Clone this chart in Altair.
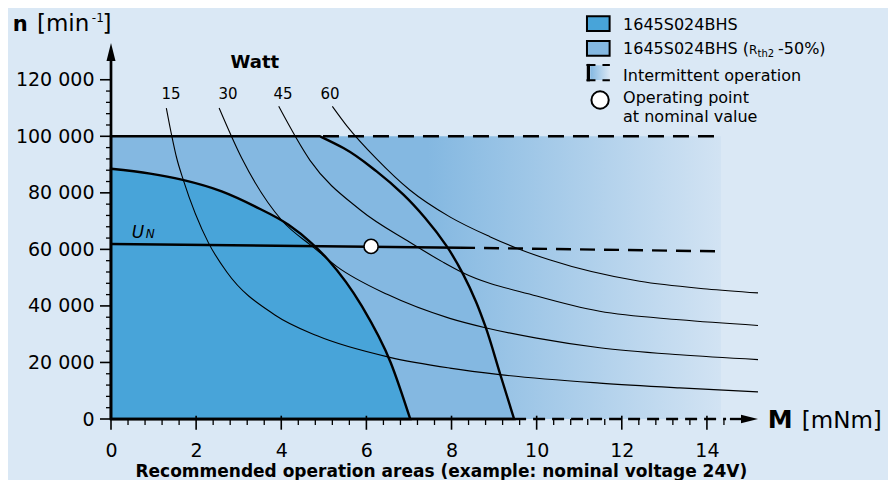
import altair as alt
import pandas as pd

FONT = "DejaVu Sans"
BG = "#dae8f5"
DARK = "#48a4d9"
MED = "#84b8e1"
FADE = "#d2e3f3"

# ---------------- data ----------------
# torque M [mNm] / speed n [min^-1]
P15_M = [1.30, 1.43, 1.54, 1.70, 2.29, 2.72, 3.85, 4.83, 6.55, 7.96, 9.13, 11.48, 13.36, 15.2]
P15_N = [110000, 100000, 92500, 84500, 62300, 52000, 36800, 29500, 21800, 18000, 15700, 12700, 11000, 9600]
P30_M = [2.54, 3.07, 4.01, 4.75, 5.30, 6.50, 7.96, 8.82, 10.0, 11.48, 13.36, 15.2]
P30_N = [110000, 92300, 70300, 60800, 54000, 44000, 35600, 32200, 28600, 25200, 22700, 21000]
P45_M = [3.94, 4.675, 5.85, 7.02, 7.81, 8.23, 10.0, 11.48, 13.36, 15.2]
P45_N = [110600, 91500, 74000, 62500, 55400, 52000, 43500, 38100, 35100, 33100]
P60_M = [5.20, 5.54, 6.24, 7.02, 7.96, 8.90, 9.52, 10.3, 12.42, 14.0, 15.2]
P60_N = [110600, 103700, 92000, 81000, 71500, 64500, 60500, 56300, 48700, 46000, 44600]
POWER_LABELS = ["15", "30", "45", "60"]

# continuous operation area 1645S024BHS
DARK_M = [0, 0.92, 1.66, 2.60, 3.38, 4.17, 4.71, 5.10, 5.89, 6.57, 7.03]
DARK_N = [88500, 86800, 84650, 80500, 75200, 68700, 62250, 56350, 40000, 20000, 0]
# area with Rth2 -50 % (curved part, from the corner of the speed limit)
MED_M = [4.91, 5.46, 6.24, 6.87, 7.38, 7.89, 8.28, 8.575, 8.79, 9.14, 9.47]
MED_N = [100000, 95860, 87580, 79340, 71100, 61050, 51000, 41500, 33000, 16000, 0]
LIMIT_N = 100000
INTERMITTENT_M = [4.98, 14.33]      # dashed speed limit / faded area end
GRADIENT_M = [0, 14.33]

# nominal voltage line
UN_M = [0, 8.2]
UN_N = [61900, 60600]
UN_DASH_M = [8.2, 14.33]
UN_DASH_N = [60600, 59300]
OP_M = [6.11]
OP_N = [61050]

# axis lines
X_AXIS_SOLID = [0, 9.47]
X_AXIS_DASH = [9.47, 14.45]
X_AXIS_TAIL = [14.54, 15.0]
X_MAX = 15.2
Y_AXIS_SOLID = [0, 130000]
Y_MAX = 133000

X_TICKS = [0, 2, 4, 6, 8, 10, 12, 14]
X_MINOR = [0.4, 0.8, 1.2, 1.6, 2.4, 2.8, 3.2, 3.6, 4.4, 4.8, 5.2, 5.6, 6.4, 6.8, 7.2, 7.6,
           8.4, 8.8, 9.2, 9.6, 10.4, 10.8, 11.2, 11.6, 12.4, 12.8, 13.2, 13.6, 14.4]
Y_TICKS = [0, 20000, 40000, 60000, 80000, 100000, 120000]
Y_MINOR = [4000, 8000, 12000, 16000, 24000, 28000, 32000, 36000, 44000, 48000, 52000, 56000,
           64000, 68000, 72000, 76000, 84000, 88000, 92000, 96000, 104000, 108000, 112000, 116000]

# ---------------- helpers ----------------
xs = alt.Scale(domain=[0, X_MAX], nice=False)
ys = alt.Scale(domain=[0, Y_MAX], nice=False)

x_axis = alt.Axis(values=X_TICKS, title=None, grid=False, domain=False, ticks=False, tickSize=0,
                  labelFont=FONT, labelFontSize=19, labelColor="black", labelPadding=37,
                  labelBaseline="alphabetic", labelFlush=False, labelOverlap=False)
y_axis = alt.Axis(values=Y_TICKS, title=None, grid=False, domain=False, ticks=False, tickSize=0,
                  labelFont=FONT, labelFontSize=19, labelColor="black", labelPadding=17,
                  labelBaseline="middle", labelOverlap=False,
                  labelExpr="datum.value == 0 ? '0' : format(datum.value / 1000, 'd') + ' 000'")


def X(f="M"):
    return alt.X(f"{f}:Q", scale=xs, axis=x_axis)


def Y(f="n"):
    return alt.Y(f"{f}:Q", scale=ys, axis=y_axis)


def grad(c0, c1, mid):
    return {"gradient": "linear", "x1": 0, "x2": 1, "y1": 0, "y2": 0,
            "stops": [{"offset": 0, "color": c0}, {"offset": mid, "color": c0},
                      {"offset": 1, "color": c1}]}


# intermittent (faded) area
g_df = pd.DataFrame({"M": [GRADIENT_M[0]], "M2": [GRADIENT_M[1]], "n": [0], "n2": [LIMIT_N]})
gradient = alt.Chart(g_df).mark_rect(fill=grad(MED, FADE, 0.52)).encode(
    x=X(), x2="M2:Q", y=Y(), y2="n2:Q")

med = alt.Chart(pd.DataFrame({"M": MED_M, "n": MED_N})).mark_area(
    orient="horizontal", interpolate="monotone", fill=MED, stroke="black", strokeWidth=2.4
).encode(x=X(), y=Y())

dark = alt.Chart(pd.DataFrame({"M": DARK_M, "n": DARK_N})).mark_area(
    interpolate="monotone", fill=DARK, stroke="black", strokeWidth=2.4
).encode(x=X(), y=Y())

rows = []
for lab, ms, ns in zip(POWER_LABELS, [P15_M, P30_M, P45_M, P60_M], [P15_N, P30_N, P45_N, P60_N]):
    for m, n in zip(ms, ns):
        rows.append({"P": lab, "M": m, "n": n})
power = alt.Chart(pd.DataFrame(rows)).mark_line(
    interpolate="monotone", color="black", strokeWidth=1.1
).encode(x=X(), y=Y(), detail="P:N")

top_dash = alt.Chart(pd.DataFrame({"M": [INTERMITTENT_M[0]], "M2": [INTERMITTENT_M[1]], "n": [LIMIT_N]})).mark_rule(
    color="black", strokeWidth=2.4, strokeDash=[16, 9]).encode(x=X(), x2="M2:Q", y=Y())

un = alt.Chart(pd.DataFrame({"M": UN_M, "n": UN_N})).mark_line(color="black", strokeWidth=2.4).encode(x=X(), y=Y())
un_dash = alt.Chart(pd.DataFrame({"M": UN_DASH_M, "n": UN_DASH_N})).mark_line(
    color="black", strokeWidth=2.4, strokeDash=[15, 9]).encode(x=X(), y=Y())

# axis lines and arrows
xl = alt.Chart(pd.DataFrame({"M": [X_AXIS_SOLID[0]], "M2": [X_AXIS_SOLID[1]], "n": [0]})).mark_rule(
    color="black", strokeWidth=2.7).encode(x=X(), x2="M2:Q", y=Y())
xd = alt.Chart(pd.DataFrame({"M": [X_AXIS_DASH[0]], "M2": [X_AXIS_DASH[1]], "n": [0]})).mark_rule(
    color="black", strokeWidth=2.4, strokeDash=[12, 7]).encode(x=X(), x2="M2:Q", y=Y())
xt = alt.Chart(pd.DataFrame({"M": [X_AXIS_TAIL[0]], "M2": [X_AXIS_TAIL[1]], "n": [0]})).mark_rule(
    color="black", strokeWidth=2.4).encode(x=X(), x2="M2:Q", y=Y())
xarrow = alt.Chart(pd.DataFrame({"M": [X_MAX], "n": [0]})).mark_point(
    shape="M0,0L-2,-0.5L-2,0.5Z", size=289, filled=True, color="black", opacity=1).encode(x=X(), y=Y())
yl = alt.Chart(pd.DataFrame({"M": [0], "n": [Y_AXIS_SOLID[0]], "n2": [Y_AXIS_SOLID[1]]})).mark_rule(
    color="black", strokeWidth=2.7).encode(x=X(), y=Y(), y2="n2:Q")
yarrow = alt.Chart(pd.DataFrame({"M": [0], "n": [Y_MAX]})).mark_point(
    shape="M0,0L0.5,2L-0.5,2Z", size=324, filled=True, color="black", opacity=1).encode(x=X(), y=Y())

xmaj = alt.Chart(pd.DataFrame({"M": X_TICKS, "n": [0] * len(X_TICKS)})).mark_tick(
    orient="vertical", size=14, thickness=1.6, color="black", yOffset=3.7, opacity=1).encode(x=X(), y=Y())
xmin = alt.Chart(pd.DataFrame({"M": X_MINOR, "n": [0] * len(X_MINOR)})).mark_tick(
    orient="vertical", size=6, thickness=1.3, color="black", yOffset=3, opacity=1).encode(x=X(), y=Y())
ymaj = alt.Chart(pd.DataFrame({"M": [0] * len(Y_TICKS), "n": Y_TICKS})).mark_tick(
    orient="horizontal", size=12, thickness=1.6, color="black", xOffset=-5, opacity=1).encode(x=X(), y=Y())
ymin = alt.Chart(pd.DataFrame({"M": [0] * len(Y_MINOR), "n": Y_MINOR})).mark_tick(
    orient="horizontal", size=5, thickness=1.3, color="black", xOffset=-2.5, opacity=1).encode(x=X(), y=Y())

op = alt.Chart(pd.DataFrame({"M": OP_M, "n": OP_N})).mark_point(
    shape="circle", size=201, filled=True, fill="white", stroke="black", strokeWidth=1.6, opacity=1
).encode(x=X(), y=Y())

# ---------------- legend ----------------
LEG_ICON_M = 11.448
LEG_ROWS_N = [139830, 131090]
leg_rect = alt.Chart(pd.DataFrame({"M": [LEG_ICON_M, LEG_ICON_M], "n": LEG_ROWS_N, "c": ["a", "b"]})).mark_point(
    shape="M-1.54,-1H1.54V1H-1.54Z", size=216, filled=True, stroke="black", strokeWidth=2, opacity=1
).encode(x=X(), y=Y(), fill=alt.Fill("c:N", scale=alt.Scale(domain=["a", "b"], range=[DARK, MED]), legend=None))

leg_grad = alt.Chart(pd.DataFrame({"M": [11.26], "M2": [11.72], "n": [119900], "n2": [125100]})).mark_rect(
    fill=grad(MED, BG, 0.0)).encode(x=X(), x2="M2:Q", y=Y(), y2="n2:Q")
leg_bar = alt.Chart(pd.DataFrame({"M": [11.215], "n": [119450], "n2": [125600]})).mark_rule(
    color="black", strokeWidth=3.2).encode(x=X(), y=Y(), y2="n2:Q")
leg_dash = alt.Chart(pd.DataFrame({"M": [11.17, 11.17], "M2": [11.72, 11.72], "n": [125250, 119800]})).mark_rule(
    color="black", strokeWidth=2, strokeDash=[9, 7]).encode(x=X(), x2="M2:Q", y=Y())
leg_circle = alt.Chart(pd.DataFrame({"M": [11.49], "n": [112840]})).mark_point(
    shape="circle", size=300, filled=True, fill="white", stroke="black", strokeWidth=2, opacity=1
).encode(x=X(), y=Y())


# ---------------- texts ----------------
def texts(items, size, weight="normal", style="normal", align="left"):
    df = pd.DataFrame(items, columns=["t", "M", "n"])
    return alt.Chart(df).mark_text(
        font=FONT, fontSize=size, fontWeight=weight, fontStyle=style, align=align,
        baseline="alphabetic", color="black"
    ).encode(x=X(), y=Y(), text="t:N")


txt = [
    texts([("n", -2.31, 137100)], 21, "bold"),
    texts([("[min", -1.74, 137100), ("]", -0.2, 137100)], 23),
    texts([("-1", -0.45, 140500)], 12),
    texts([("M", 15.43, -3080)], 25, "bold"),
    texts([("[mNm]", 16.23, -3080)], 23),
    texts([("Recommended operation areas (example: nominal voltage 24V)", 7.76, -20400)], 17, "bold", align="center"),
    texts([("Watt", 3.38, 124260)], 18, "bold", align="center"),
    texts([(POWER_LABELS[0], 1.41, 113300), (POWER_LABELS[1], 2.75, 113300),
           (POWER_LABELS[2], 4.04, 113300), (POWER_LABELS[3], 5.145, 113300)], 15, align="center"),
    texts([("U", 0.486, 64050)], 17, style="italic"),
    texts([("N", 0.815, 64200)], 12, style="italic"),
    texts([("1645S024BHS", 12.03, 137600), ("1645S024BHS (", 12.03, 128960),
           ("-50%)", 15.67, 128960), ("Intermittent operation", 12.03, 119420),
           ("Operating point", 12.03, 111700), ("at nominal value", 12.03, 105100)], 16),
    texts([("R", 14.99, 128960)], 12),
    texts([("th2", 15.19, 128150)], 10),
]

chart = alt.layer(
    gradient, med, dark, power, top_dash, un, un_dash,
    xl, xd, xt, xarrow, yl, yarrow, xmaj, xmin, ymaj, ymin, op,
    leg_rect, leg_grad, leg_bar, leg_dash, leg_circle, *txt
).properties(
    width=647, height=376, background=BG,
    padding={"left": 103, "top": 35, "right": 130, "bottom": 61},
    autosize=alt.AutoSizeParams(type="none"),
).configure_view(stroke=None)

chart.save("out.html", embed_options={"renderer": "svg", "actions": False})
